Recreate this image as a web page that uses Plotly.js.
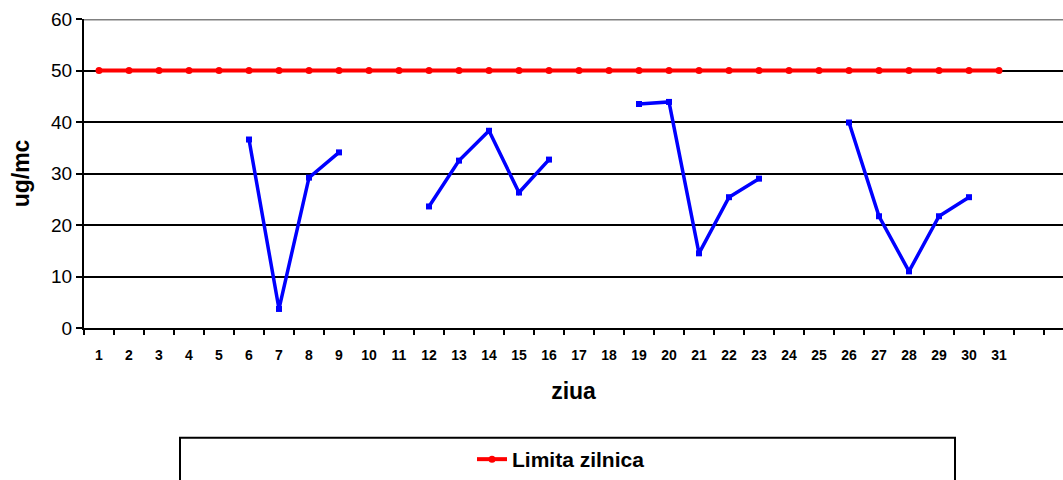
<!DOCTYPE html>
<html>
<head>
<meta charset="utf-8">
<script src="https://cdn.plot.ly/plotly-3.0.1.min.js"></script>
<style>html,body{margin:0;padding:0;background:#fff;}#chart{width:1063px;height:480px;}</style>
</head>
<body>
<div id="chart"></div>
<script>
const days = [1,2,3,4,5,6,7,8,9,10,11,12,13,14,15,16,17,18,19,20,21,22,23,24,25,26,27,28,29,30,31];
const measured = [null,null,null,null,null,36.6,3.7,29.2,34.1,null,null,23.6,32.5,38.3,26.3,32.7,null,null,43.5,43.9,14.5,25.4,29.0,null,null,39.9,21.7,11.0,21.7,25.4,null];
const limit = days.map(() => 50);
const yTicks = [0,10,20,30,40,50,60];
const seriesName = 'Limita zilnica';
const xTitle = 'ziua';
const yTitle = 'ug/mc';

const font = 'Arial, "Liberation Sans", sans-serif';
const traces = [
  {x: days, y: limit, name: seriesName, mode: 'lines+markers', type: 'scatter',
   line: {color: '#FF0000', width: 4}, marker: {symbol: 'circle', size: 7, color: '#FF0000'}, showlegend: true, cliponaxis: false},
  {x: days, y: measured, name: 'masurat', mode: 'lines+markers', type: 'scatter', connectgaps: false,
   line: {color: '#0000FF', width: 3.5}, marker: {symbol: 'square', size: 6, color: '#0000FF'}, showlegend: false, cliponaxis: false}
];
const layout = {
  width: 1063, height: 480,
  margin: {l: 84, r: 0, t: 19, b: 151, pad: 0},
  paper_bgcolor: '#fff', plot_bgcolor: '#fff',
  font: {family: font, color: '#000'},
  xaxis: {
    range: [0.5, 0.5 + 979/30], tickvals: days, ticktext: days.map(String),
    ticks: '', showgrid: false, zeroline: false,
    showline: true, linecolor: '#000', linewidth: 2,
    tickfont: {family: font, size: 14, weight: 'bold'},
    ticklabelstandoff: 13,
    minor: {tickmode: 'linear', tick0: 0.5, dtick: 1, ticks: 'outside', ticklen: 5, tickwidth: 2, tickcolor: '#000', showgrid: false},
    title: {text: xTitle, font: {family: font, size: 23, weight: 'bold'}, standoff: 21},
    fixedrange: true
  },
  yaxis: {
    range: [0, 60], tickvals: yTicks, ticktext: yTicks.map(String),
    ticks: 'outside', ticklen: 6, tickwidth: 2, tickcolor: '#000',
    showline: true, linecolor: '#000', linewidth: 2,
    showgrid: true, gridcolor: '#000', gridwidth: 2, zeroline: false,
    tickfont: {family: font, size: 19},
    title: {text: yTitle, font: {family: font, size: 23, weight: 'bold'}, standoff: 15},
    fixedrange: true
  },
  shapes: [
    {type: 'line', xref: 'paper', yref: 'y', x0: 0, x1: 1, y0: 60, y1: 60, line: {color: '#808080', width: 3}},
    {type: 'rect', xref: 'paper', yref: 'paper', x0: (180-84)/979, x1: (955-84)/979, y0: -(490-329)/310, y1: -(439-329)/310, line: {color: '#000', width: 2}, fillcolor: 'rgba(0,0,0,0)'}
  ],
  legend: {
    orientation: 'h', x: (472-84)/979, xanchor: 'left', y: -(439-329+2)/310, yanchor: 'top',
    font: {family: font, size: 21, weight: 'bold'}, bgcolor: 'rgba(0,0,0,0)', borderwidth: 0
  },
  showlegend: true
};
Plotly.newPlot('chart', traces, layout, {staticPlot: true, displayModeBar: false});
</script>
</body>
</html>
